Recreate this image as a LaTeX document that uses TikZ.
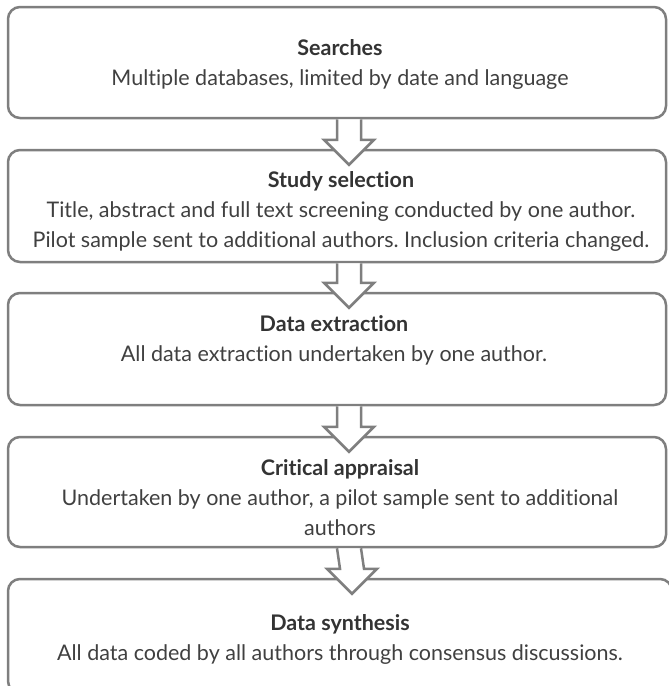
\documentclass[tikz,border=0pt]{standalone}
\usepackage{fontspec}
\setmainfont{Lato}[Ligatures={NoCommon}]
\usetikzlibrary{calc}
\definecolor{boxgray}{HTML}{7F7F7F}
\definecolor{txtgray}{HTML}{404040}
\definecolor{ttlgray}{HTML}{333333}
\tikzset{
  stagebox/.style={draw=boxgray, line width=2.5pt, rounded corners=12pt, rectangle, inner sep=0pt},
  stagetext/.style={align=center, text=txtgray, font=\fontsize{21.5}{30}\selectfont\frenchspacing, inner sep=0pt},
  blockarrow/.style={draw=boxgray, fill=white, line width=2.5pt, line join=miter},
}
\newcommand{\ttl}[1]{{\bfseries\color{ttlgray}#1}}
\begin{document}
\begin{tikzpicture}[x=1pt,y=-1pt]
\useasboundingbox (0,0) rectangle (669,686);
% boxes
\node[stagebox, minimum width=658pt, minimum height=111pt] (b1) at (337,62.5) {};
\node[stagebox, minimum width=658pt, minimum height=112pt] (b2) at (337,206) {};
\node[stagebox, minimum width=658pt, minimum height=112pt] (b3) at (337,349) {};
\node[stagebox, minimum width=658pt, minimum height=110pt] (b4) at (337,492) {};
\node[stagebox, minimum width=664pt, minimum height=114pt] (b5) at (340,636) {};
% texts
\node[stagetext] (t1) at (340,64) {\ttl{Searches}\\Multiple databases, limited by date and language};
\node[stagetext] (t2) at (341,211) {\ttl{Study selection}\\Title, abstract and full text screening conducted by one author.\\Pilot sample sent to additional authors. Inclusion criteria changed.};
\node[stagetext] (t3) at (334,340) {\ttl{Data extraction}\\All data extraction undertaken by one author.};
\node[stagetext] (t4) at (340,498) {\ttl{Critical appraisal}\\Undertaken by one author, a pilot sample sent to additional\\authors};
\node[stagetext] (t5) at (340,639) {\ttl{Data synthesis}\\All data coded by all authors through consensus discussions.};
% arrows
\foreach \a/\b in {b1/b2,b2/b3,b3/b4,b4/b5}{
  \coordinate (s) at ($(\a.south)+(12,0)$);
  \coordinate (n) at ($(\b.north)+(12,0)$);
  \draw[blockarrow] ($(s)+(-12,0)$) -- ($(n)+(-12,-9)$) -- ($(n)+(-25,-9)$) -- ($(n)+(0,16)$)
     -- ($(n)+(25,-9)$) -- ($(n)+(12,-9)$) -- ($(s)+(12,0)$);
}
\end{tikzpicture}
\end{document}
